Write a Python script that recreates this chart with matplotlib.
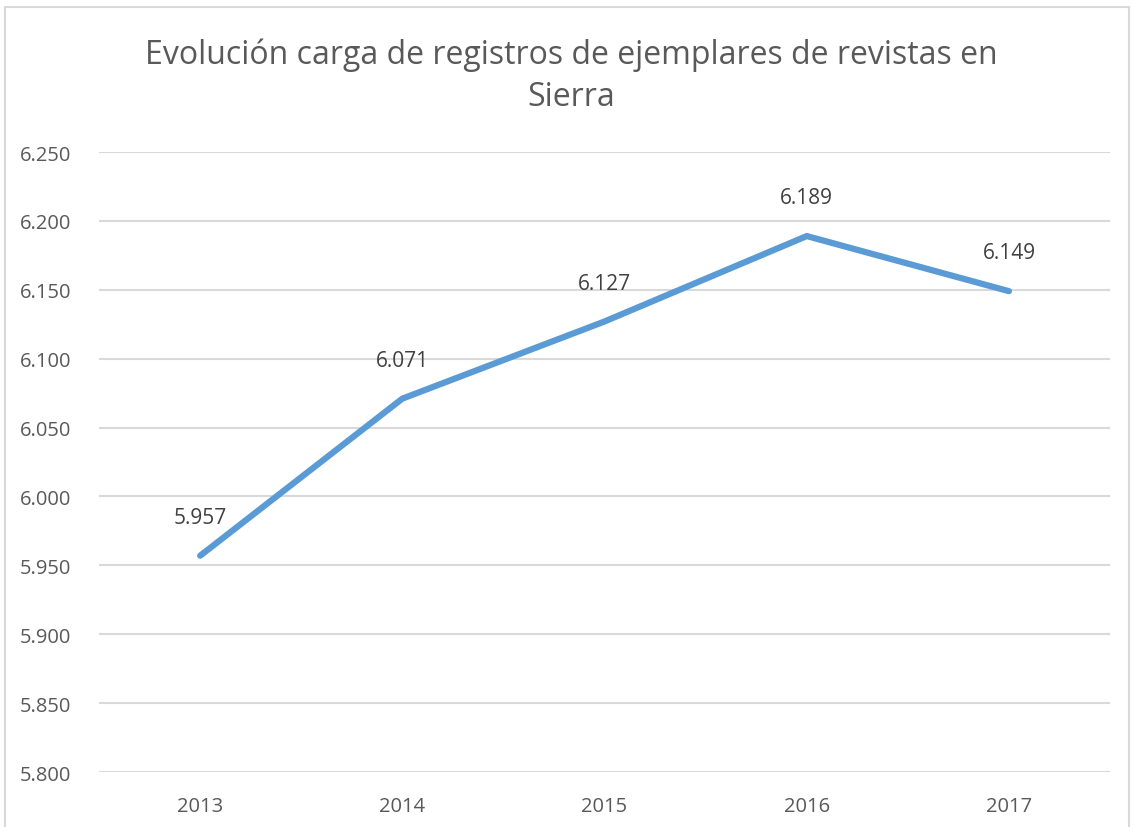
import matplotlib
matplotlib.use('Agg')
import matplotlib.pyplot as plt
from matplotlib.patches import Rectangle
from matplotlib.ticker import FuncFormatter, MultipleLocator

years = ['2013', '2014', '2015', '2016', '2017']
registros = [5957, 6071, 6127, 6189, 6149]
title = 'Evolución carga de registros de ejemplares de revistas en\nSierra'

def miles(v, pos=None):
    return f'{int(round(v)):,}'.replace(',', '.')

plt.rcParams['font.family'] = ['Open Sans', 'DejaVu Sans']

fig = plt.figure(figsize=(11.32, 8.28), dpi=100)
ax = fig.add_axes([0.0875, 0.0664, 0.8931, 0.7488])

x = range(len(years))
ax.plot(x, registros, color='#5b9bd5', lw=4.5, solid_capstyle='round', zorder=3)
for xi, v in zip(x, registros):
    ax.annotate(miles(v), (xi, v), xytext=(0, 20), textcoords='offset points',
                ha='center', va='bottom', fontsize=15, color='#404040')

ax.set_xlim(-0.5, len(years) - 0.5)
ax.set_ylim(5800, 6250)
ax.yaxis.set_major_locator(MultipleLocator(50))
ax.yaxis.set_major_formatter(FuncFormatter(miles))
ax.set_xticks(list(x))
ax.set_xticklabels(years)
ax.grid(axis='y', color='#d9d9d9', lw=1.5)
ax.set_axisbelow(True)
for s in ax.spines.values():
    s.set_visible(False)
ax.tick_params(length=0, labelsize=14.5, labelcolor='#595959')
ax.tick_params(axis='y', pad=20)
ax.tick_params(axis='x', pad=17)

fig.text(0.505, 0.908, title, ha='center', va='center', fontsize=23,
         color='#595959', linespacing=1.35)

fig.patches.append(Rectangle((0.004, -0.01), 0.993, 1.0, transform=fig.transFigure,
                             fill=False, edgecolor='#d9d9d9', lw=1.5))

fig.savefig('out.png', dpi=100)
